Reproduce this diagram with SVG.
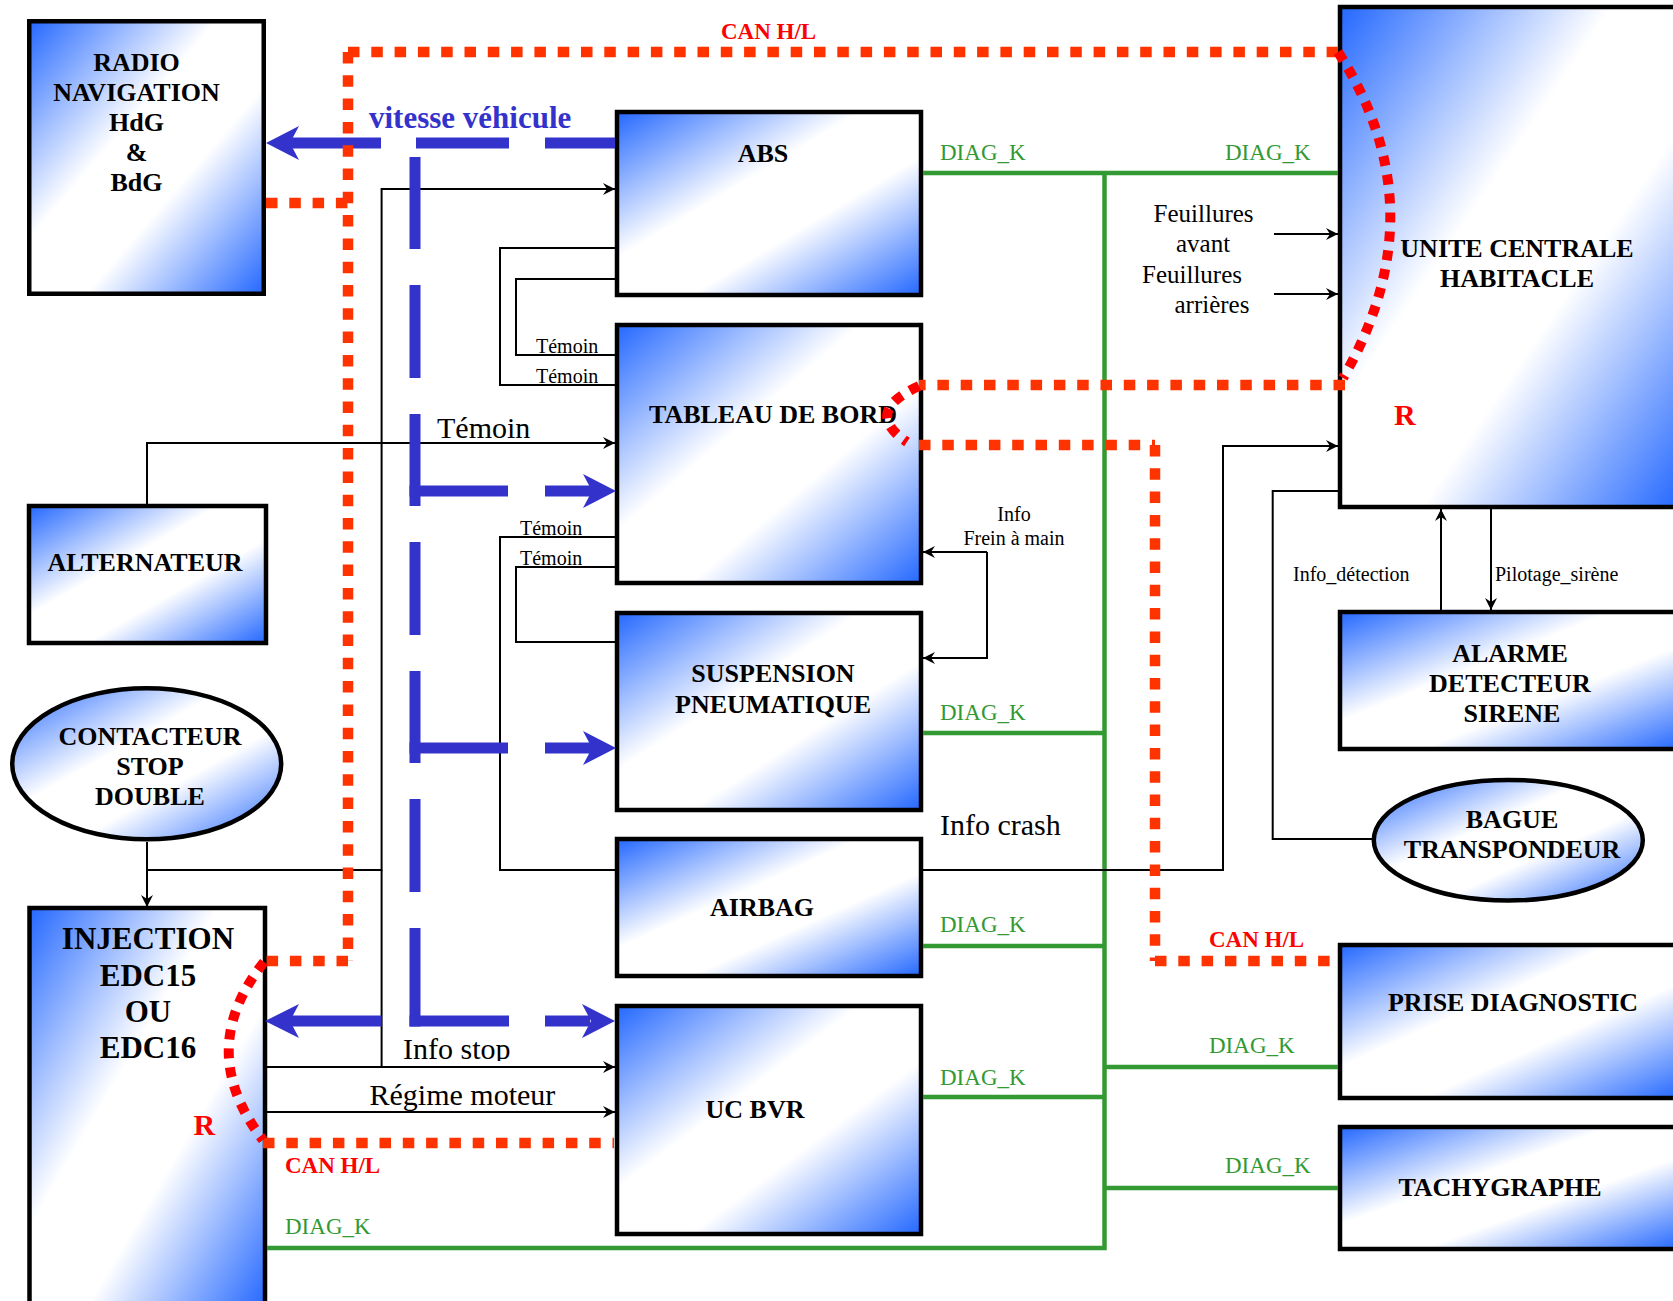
<svg xmlns="http://www.w3.org/2000/svg" width="1673" height="1301" viewBox="0 0 1673 1301">
<defs>
<linearGradient id="g" x1="0" y1="0" x2="1" y2="1"><stop offset="0" stop-color="#2468ff"/><stop offset="0.4" stop-color="#ffffff"/><stop offset="0.62" stop-color="#ffffff"/><stop offset="1" stop-color="#2468ff"/></linearGradient>
<marker id="a" viewBox="0 0 12 12" refX="12" refY="6" markerWidth="12" markerHeight="12" markerUnits="userSpaceOnUse" orient="auto"><path d="M0,0 L12,6 L0,12 L4,6 z" fill="#000"/></marker>
<clipPath id="clipStop"><rect x="380" y="1020" width="160" height="41"/></clipPath>
</defs>
<style>
.box{fill:url(#g);stroke:#000;stroke-width:4.5}
.lbl{font-family:"Liberation Serif","Times New Roman",serif;font-weight:bold;font-size:26px;fill:#000;text-anchor:middle}
.big{font-size:31px}
.t{font-family:"Liberation Serif","Times New Roman",serif;fill:#000}
.s20{font-size:20px}
.s25{font-size:25px}
.s30{font-size:30px}
.dk{font-family:"Liberation Serif","Times New Roman",serif;font-size:23px;fill:#339933}
.can{font-family:"Liberation Serif","Times New Roman",serif;font-size:23px;font-weight:bold;fill:#ff0000}
.r{font-family:"Liberation Serif","Times New Roman",serif;font-size:30px;font-weight:bold;fill:#ff0000}
.vit{font-family:"Liberation Serif","Times New Roman",serif;font-size:31px;font-weight:bold;fill:#3333cc}
.thin{fill:none;stroke:#000;stroke-width:2}
.arr{marker-end:url(#a)}
.grn{fill:none;stroke:#339933;stroke-width:4.5}
.blu{fill:none;stroke:#3333cc;stroke-width:11}
.bah{fill:#3333cc}
.can-h{fill:none;stroke:#ff3300;stroke-width:10.5;stroke-dasharray:11.5 11.8}
.can-a{fill:none;stroke:#ff0000;stroke-width:10;stroke-dasharray:10 9}
</style>

<g id="radio"><rect class="box" x="29.25" y="21.25" width="234.5" height="272.5"/>
<text class="lbl"><tspan x="136.5" y="71">RADIO</tspan><tspan x="136.5" y="100.7">NAVIGATION</tspan><tspan x="136.5" y="130.7">HdG</tspan><tspan x="136.5" y="160.7">&amp;</tspan><tspan x="136.5" y="190.7">BdG</tspan></text></g>
<g id="abs"><rect class="box" x="617" y="112" width="304" height="183"/><text class="lbl" x="763" y="162">ABS</text></g>
<g id="tableau"><rect class="box" x="617" y="325" width="304" height="258"/><text class="lbl" x="773" y="423">TABLEAU DE BORD</text></g>
<g id="suspension"><rect class="box" x="617" y="613" width="304" height="197"/><text class="lbl"><tspan x="773" y="682">SUSPENSION</tspan><tspan x="773" y="713">PNEUMATIQUE</tspan></text></g>
<g id="airbag"><rect class="box" x="617" y="839" width="304" height="137"/><text class="lbl" x="762" y="916">AIRBAG</text></g>
<g id="ucbvr"><rect class="box" x="617" y="1006" width="304" height="228"/><text class="lbl" x="755" y="1118">UC BVR</text></g>
<g id="unite"><rect class="box" x="1340" y="7" width="340" height="500"/><text class="lbl"><tspan x="1517" y="257">UNITE CENTRALE</tspan><tspan x="1517" y="287">HABITACLE</tspan></text><text class="r" x="1394" y="425">R</text></g>
<g id="alarme"><rect class="box" x="1340" y="612" width="340" height="137"/><text class="lbl"><tspan x="1510" y="662">ALARME</tspan><tspan x="1510" y="692">DETECTEUR</tspan><tspan x="1512" y="722">SIRENE</tspan></text></g>
<g id="bague"><ellipse class="box" cx="1508.3" cy="840.2" rx="134.5" ry="60.3"/><text class="lbl"><tspan x="1512" y="828">BAGUE</tspan><tspan x="1512" y="858">TRANSPONDEUR</tspan></text></g>
<g id="prise"><rect class="box" x="1340" y="945" width="340" height="153"/><text class="lbl" x="1513" y="1011" textLength="250" lengthAdjust="spacingAndGlyphs">PRISE DIAGNOSTIC</text></g>
<g id="tachy"><rect class="box" x="1340" y="1127" width="340" height="122"/><text class="lbl" x="1500" y="1196">TACHYGRAPHE</text></g>
<g id="alternateur"><rect class="box" x="29" y="506" width="237" height="137"/><text class="lbl" x="145" y="571">ALTERNATEUR</text></g>
<g id="contacteur"><ellipse class="box" cx="146.7" cy="763.8" rx="134.5" ry="75.5"/><text class="lbl"><tspan x="150" y="745">CONTACTEUR</tspan><tspan x="150" y="775">STOP</tspan><tspan x="150" y="805">DOUBLE</tspan></text></g>
<g id="injection"><rect class="box" x="29.5" y="908" width="235.5" height="400"/><text class="lbl big"><tspan x="148" y="949">INJECTION</tspan><tspan x="148" y="986">EDC15</tspan><tspan x="148" y="1022">OU</tspan><tspan x="148" y="1058">EDC16</tspan></text><text class="r" x="193.6" y="1135">R</text></g>

<g id="connectors">
<path class="grn" d="M923,173 H1338"/>
<path class="grn" d="M1104.5,173 V1248 H267"/>
<path class="grn" d="M923,733 H1104.5"/>
<path class="grn" d="M923,946 H1104.5"/>
<path class="grn" d="M923,1097 H1104.5"/>
<path class="grn" d="M1104.5,1067 H1338"/>
<path class="grn" d="M1104.5,1188 H1338"/>

<path class="thin arr" d="M147,504 V443 H615"/>
<path class="thin arr" d="M147,842 V907"/>
<path class="thin arr" d="M147,870 H381.6 V189 H615"/>
<path class="thin" d="M381.6,870 V1067"/>
<path class="thin arr" d="M267,1067 H615"/>
<path class="thin arr" d="M267,1112 H615"/>
<path class="thin" d="M615,248 H500 V385 H615"/>
<path class="thin" d="M615,279 H516 V355 H615"/>
<path class="thin" d="M615,537 H500 V870 H615"/>
<path class="thin" d="M615,567 H516 V642 H615"/>
<path class="thin arr" d="M987,552 H923"/>
<path class="thin arr" d="M987,552 V658 H923"/>
<path class="thin arr" d="M923,870 H1223 V446 H1338"/>
<path class="thin arr" d="M1274,234 H1338"/>
<path class="thin arr" d="M1274,294 H1338"/>
<path class="thin" d="M1338,491 H1272.7 V839 H1372"/>
<path class="thin arr" d="M1441,610 V509"/>
<path class="thin arr" d="M1491,509 V610"/>

<path class="blu" d="M290,143 H381 M416,143 H509 M545,143 H615"/>
<path class="blu" d="M415,157 V249 M415,285 V378 M415,414 V506 M415,542 V635 M415,671 V763 M415,799 V892 M415,928 V1026.5"/>
<path class="blu" d="M409.5,491 H508 M545,491 H592"/>
<path class="blu" d="M409.5,748 H508 M545,748 H592"/>
<path class="blu" d="M409.5,1021 H509 M545,1021 H590"/>
<path class="blu" d="M290,1021 H381.6"/>
<polygon class="bah" points="266,143 299,126 290,143 299,160"/>
<polygon class="bah" points="616,491 583,474 592,491 583,508"/>
<polygon class="bah" points="616,748 583,731 592,748 583,765"/>
<polygon class="bah" points="615,1021 582,1004 591,1021 582,1038"/>
<polygon class="bah" points="265,1021 299,1004 290,1021 299,1038"/>

<path class="can-h" d="M266,203 H348"/>
<path class="can-h" d="M348,52 V961"/>
<path class="can-h" d="M348,52 H1338"/>
<path class="can-h" d="M1345,385 H919"/>
<path class="can-h" d="M919,445 H1155"/>
<path class="can-h" d="M1155,445 V961"/>
<path class="can-h" d="M1155,961 H1330"/>
<path class="can-h" d="M348,961 H264"/>
<path class="can-h" d="M263,1143 H614"/>
<path class="can-a" d="M1338,52 Q1440,210 1343,378"/>
<path class="can-a" d="M919,386 Q862,412 907,442"/>
<path class="can-a" d="M264,962 Q194,1050 263,1140"/>
</g>

<g id="labels">
<text class="vit" x="369" y="128">vitesse véhicule</text>
<text class="can" x="721" y="39">CAN H/L</text>
<text class="can" x="1209" y="947">CAN H/L</text>
<text class="can" x="285" y="1173">CAN H/L</text>
<text class="dk" x="940" y="160">DIAG_K</text>
<text class="dk" x="1225" y="160">DIAG_K</text>
<text class="dk" x="940" y="720">DIAG_K</text>
<text class="dk" x="940" y="932">DIAG_K</text>
<text class="dk" x="940" y="1085">DIAG_K</text>
<text class="dk" x="1209" y="1053">DIAG_K</text>
<text class="dk" x="1225" y="1173">DIAG_K</text>
<text class="dk" x="285" y="1234">DIAG_K</text>
<text class="t s25" x="1153.6" y="222">Feuillures</text>
<text class="t s25" x="1176" y="252">avant</text>
<text class="t s25" x="1142" y="283">Feuillures</text>
<text class="t s25" x="1174.5" y="313">arrières</text>
<text class="t s20" x="536" y="353">Témoin</text>
<text class="t s20" x="536" y="383">Témoin</text>
<text class="t s20" x="520" y="535">Témoin</text>
<text class="t s20" x="520" y="565">Témoin</text>
<text class="t s30" x="437" y="438">Témoin</text>
<text class="t s20" x="1014" y="521" text-anchor="middle">Info</text>
<text class="t s20" x="1014" y="545" text-anchor="middle">Frein à main</text>
<text class="t s30" x="940" y="835">Info crash</text>
<text class="t s20" x="1293" y="581">Info_détection</text>
<text class="t s20" x="1495" y="581">Pilotage_sirène</text>
<text class="t s30" x="403" y="1059" clip-path="url(#clipStop)">Info stop</text>
<text class="t s30" x="369.5" y="1105">Régime moteur</text>
</g>
</svg>
